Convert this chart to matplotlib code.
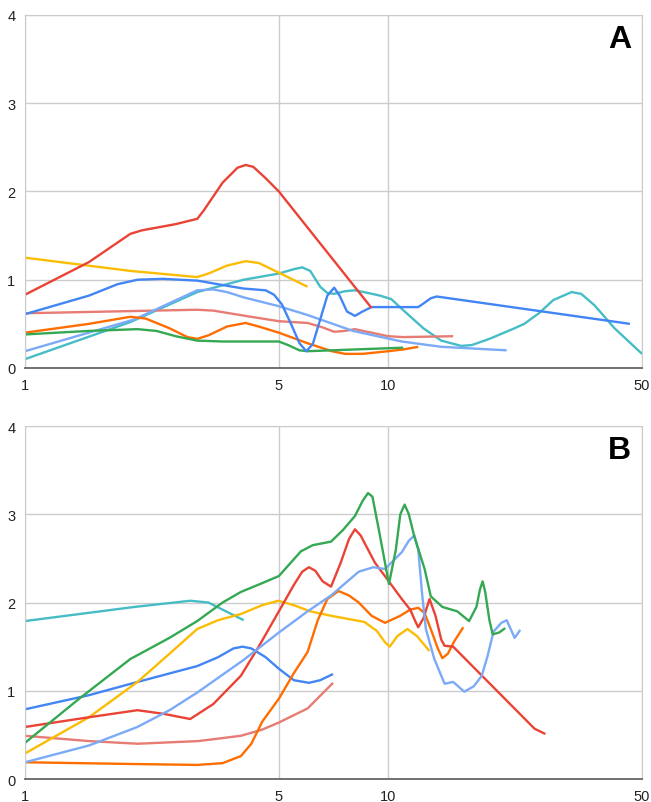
import matplotlib
matplotlib.use("Agg")
from matplotlib import pyplot as plt

# ---- panel A ----
a_red_x = [1, 1.5, 1.95, 2.1, 2.6, 2.98, 3.1, 3.5, 3.85, 4.05, 4.25, 4.6, 5, 9.0]
a_red_y = [0.83, 1.2, 1.52, 1.56, 1.63, 1.69, 1.78, 2.1, 2.27, 2.30, 2.28, 2.15, 2.0, 0.68]
a_yellow_x = [1, 1.95, 2.98, 3.2, 3.6, 4.05, 4.4, 5, 6.0]
a_yellow_y = [1.25, 1.10, 1.03, 1.07, 1.16, 1.21, 1.19, 1.08, 0.92]
a_blue_x = [1, 1.5, 1.8, 2.04, 2.4, 2.98, 3.5, 4.0, 4.6, 4.85, 5.1, 5.4, 5.7, 5.95, 6.2, 6.5, 6.8, 7.1,
            7.35, 7.7, 8.1, 8.5, 9.0, 12.1, 12.6, 13.1, 13.6, 46.3]
a_blue_y = [0.61, 0.82, 0.95, 1.0, 1.01, 0.99, 0.94, 0.90, 0.88, 0.83, 0.72, 0.50, 0.28, 0.19, 0.27, 0.55, 0.82, 0.91,
            0.82, 0.64, 0.59, 0.64, 0.69, 0.69, 0.74, 0.79, 0.81, 0.50]
a_green_x = [1, 1.5, 2.04, 2.3, 2.6, 2.98, 3.5, 5, 5.3, 5.7, 6.0, 11.0]
a_green_y = [0.38, 0.42, 0.44, 0.42, 0.36, 0.31, 0.30, 0.30, 0.26, 0.20, 0.19, 0.23]
a_orange_x = [1, 1.5, 1.95, 2.15, 2.5, 2.8, 2.98, 3.2, 3.6, 4.05, 4.4, 5, 6, 7, 7.6, 8.5, 10, 11, 12.1]
a_orange_y = [0.40, 0.50, 0.58, 0.56, 0.45, 0.35, 0.33, 0.37, 0.47, 0.51, 0.47, 0.40, 0.28, 0.19, 0.16, 0.16, 0.19, 0.21, 0.24]
a_pink_x = [1, 2.98, 3.3, 4.05, 5, 6, 6.6, 7.1, 7.6, 8.1, 9, 10, 11, 15.1]
a_pink_y = [0.62, 0.66, 0.65, 0.59, 0.53, 0.51, 0.46, 0.41, 0.42, 0.44, 0.40, 0.36, 0.35, 0.36]
a_ltblue_x = [1, 2, 2.98, 3.3, 3.6, 4, 5, 6, 8, 10.9, 14, 21.2]
a_ltblue_y = [0.19, 0.55, 0.88, 0.89, 0.86, 0.80, 0.70, 0.60, 0.42, 0.30, 0.24, 0.20]
a_teal_x = [1, 1.95, 2.98, 4, 5, 5.5, 5.8, 6.1, 6.5, 6.8, 7.1, 7.6, 8.1, 8.8, 9.5, 10.2, 10.9, 12.5, 14,
            15.9, 17, 19, 22, 23.7, 26, 28.5, 32, 34, 37, 42, 50]
a_teal_y = [0.10, 0.52, 0.86, 1.0, 1.07, 1.12, 1.14, 1.10, 0.92, 0.85, 0.84, 0.87, 0.88, 0.85, 0.82, 0.78, 0.67, 0.45, 0.31,
            0.25, 0.26, 0.33, 0.44, 0.50, 0.62, 0.77, 0.86, 0.84, 0.71, 0.45, 0.16]

# ---- panel B ----
b_teal_x = [1, 2, 2.85, 3.2, 4.0]
b_teal_y = [1.79, 1.95, 2.02, 2.0, 1.80]
b_green_x = [1, 1.4, 1.95, 2.5, 2.98, 3.5, 3.93, 4.5, 5, 5.75, 6.2, 6.96, 7.5, 8.1, 8.5, 8.8, 9.05, 9.4, 10.05,
             10.5, 10.8, 11.1, 11.4, 11.8, 12.6, 13.1, 14.1, 15.5, 16.7, 17.5, 17.9, 18.2, 18.5, 19.0, 19.4, 20.2, 21.0]
b_green_y = [0.41, 0.9, 1.36, 1.6, 1.79, 2.0, 2.12, 2.22, 2.30, 2.58, 2.65, 2.69, 2.82, 2.98, 3.15, 3.24, 3.2, 2.85, 2.21,
             2.6, 3.0, 3.11, 3.0, 2.75, 2.38, 2.07, 1.95, 1.9, 1.79, 1.95, 2.15, 2.24, 2.12, 1.8, 1.64, 1.66, 1.71]
b_red_x = [1, 1.5, 2.04, 2.4, 2.85, 3.3, 3.93, 4.4, 5, 5.5, 5.8, 6.05, 6.3, 6.6, 6.96, 7.4, 7.8, 8.1, 8.4, 8.8, 9.2, 10,
           10.9, 11.5, 11.9, 12.1, 12.5, 13.0, 13.5, 14.0, 14.3, 15.1, 25.3, 27.1]
b_red_y = [0.59, 0.7, 0.78, 0.74, 0.68, 0.85, 1.17, 1.5, 1.90, 2.2, 2.35, 2.40, 2.36, 2.24, 2.18, 2.45, 2.72, 2.83, 2.76, 2.6, 2.45, 2.25,
           2.04, 1.92, 1.78, 1.72, 1.82, 2.04, 1.85, 1.58, 1.51, 1.50, 0.57, 0.51]
b_yellow_x = [1, 1.5, 2.04, 2.5, 2.98, 3.4, 3.93, 4.5, 4.98, 5.5, 6.1, 6.96, 8.6, 9.3, 9.8, 10.1, 10.6, 11.3, 12, 13.0]
b_yellow_y = [0.29, 0.7, 1.10, 1.42, 1.70, 1.8, 1.87, 1.97, 2.02, 1.97, 1.90, 1.85, 1.78, 1.68, 1.55, 1.50, 1.62, 1.70, 1.62, 1.45]
b_blue_x = [1, 1.5, 2.04, 2.98, 3.4, 3.75, 3.97, 4.2, 4.6, 5, 5.5, 6.05, 6.5, 7.05]
b_blue_y = [0.79, 0.95, 1.10, 1.28, 1.38, 1.48, 1.50, 1.48, 1.38, 1.25, 1.12, 1.09, 1.12, 1.19]
b_pink_x = [1, 1.5, 2.04, 3, 3.93, 4.5, 5, 6, 7.05]
b_pink_y = [0.49, 0.43, 0.40, 0.43, 0.49, 0.56, 0.64, 0.80, 1.09]
b_orange_x = [1, 2, 2.98, 3.5, 3.93, 4.2, 4.5, 5, 5.5, 6, 6.4, 6.8, 7.3, 7.8, 8.3, 9.0, 9.8, 10.8, 11.5, 12.1, 12.6,
              13.1, 13.7, 14.1, 14.6, 15.2, 16.1]
b_orange_y = [0.19, 0.17, 0.16, 0.18, 0.26, 0.40, 0.65, 0.91, 1.20, 1.44, 1.80, 2.04, 2.13, 2.08, 2.0, 1.85, 1.77, 1.85, 1.92, 1.94, 1.88,
              1.70, 1.48, 1.37, 1.42, 1.56, 1.72]
b_ltblue_x = [1, 1.5, 2.04, 2.5, 2.98, 4, 5, 6, 6.96, 8.3, 9.1, 9.8, 10.9, 11.4, 11.8, 12.1, 12.4, 12.7, 13.4, 14.3,
              15.1, 16.2, 17.2, 18.1, 18.8, 19.5, 20.5, 21.2, 22.3, 23.1]
b_ltblue_y = [0.19, 0.38, 0.59, 0.78, 0.98, 1.35, 1.66, 1.90, 2.08, 2.35, 2.40, 2.38, 2.57, 2.70, 2.76, 2.60, 2.1, 1.7, 1.36, 1.08,
              1.10, 0.99, 1.05, 1.17, 1.40, 1.67, 1.77, 1.80, 1.60, 1.69]

x_ticks = [1, 5, 10, 50]
x_labels = ['1', '5', '10', '50']
y_ticks = [0, 1, 2, 3, 4]

colors = {'blue': '#4285F4', 'red': '#EA4335', 'yellow': '#FBBC04', 'green': '#34A853',
          'orange': '#FF6D01', 'teal': '#46BDC6', 'ltblue': '#7BAAF7', 'pink': '#E67C73'}

panel_a = [(a_teal_x, a_teal_y, 'teal'), (a_pink_x, a_pink_y, 'pink'), (a_ltblue_x, a_ltblue_y, 'ltblue'),
           (a_orange_x, a_orange_y, 'orange'), (a_green_x, a_green_y, 'green'), (a_yellow_x, a_yellow_y, 'yellow'),
           (a_blue_x, a_blue_y, 'blue'), (a_red_x, a_red_y, 'red')]
panel_b = [(b_teal_x, b_teal_y, 'teal'), (b_pink_x, b_pink_y, 'pink'), (b_blue_x, b_blue_y, 'blue'),
           (b_yellow_x, b_yellow_y, 'yellow'), (b_orange_x, b_orange_y, 'orange'), (b_red_x, b_red_y, 'red'),
           (b_ltblue_x, b_ltblue_y, 'ltblue'), (b_green_x, b_green_y, 'green')]

plt.rcParams['font.family'] = ['Liberation Sans', 'DejaVu Sans']

fig = plt.figure(dpi=100, figsize=(6.51, 8.03))
ax_a = fig.add_axes([0.0384, 0.5405, 0.9478, 0.4396])
ax_b = fig.add_axes([0.0384, 0.0286, 0.9478, 0.4396])

for ax, series, letter in [(ax_a, panel_a, 'A'), (ax_b, panel_b, 'B')]:
    for xs, ys, c in series:
        ax.plot(xs, ys, c=colors[c], lw=1.7, solid_joinstyle='round', solid_capstyle='butt')
    ax.set_xscale('log')
    ax.set_xlim(1, 50)
    ax.set_ylim(0, 4)
    ax.set_xticks(x_ticks)
    ax.set_xticklabels(x_labels)
    ax.xaxis.set_minor_locator(matplotlib.ticker.NullLocator())
    ax.set_yticks(y_ticks)
    ax.grid(True, color='#cccccc', lw=1)
    ax.set_axisbelow(True)
    for side in ['top', 'right', 'left']:
        ax.spines[side].set_color('#cccccc')
    ax.spines['bottom'].set_color('#666666')
    ax.spines['bottom'].set_linewidth(1.3)
    ax.tick_params(axis='both', length=0, labelsize=10.5, colors='#222222')
    ax.tick_params(axis='x', pad=7)
    ax.tick_params(axis='y', pad=7)
    ax.text(0.982, 0.933, letter, transform=ax.transAxes, ha='right', va='center',
            fontsize=23, fontweight='bold')

fig.savefig('out.png', dpi=100)
